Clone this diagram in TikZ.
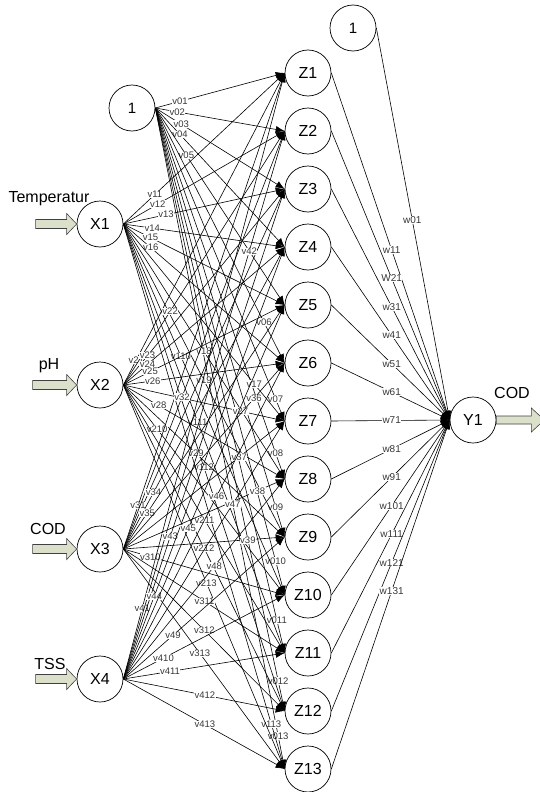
\documentclass[tikz,border=0pt]{standalone}
\usepackage{fontspec}
\setmainfont{Liberation Sans}
\usetikzlibrary{arrows.meta,calc}
\definecolor{arrowfill}{RGB}{219,224,202}
\definecolor{labgray}{RGB}{55,55,55}
\begin{document}
\begin{tikzpicture}[x=1pt,y=-1pt,
  neuron/.style={circle,draw,line width=0.7pt,fill=white,minimum size=46pt,inner sep=0pt,font=\fontsize{16}{16}\selectfont},
  biasnode/.style={neuron,font=\fontsize{15}{15}\selectfont},
  conn/.style={line width=0.6pt,-{Latex[length=9pt,width=7pt]}},
  vlab/.style={fill=white,inner sep=0.4pt,text=labgray,font=\fontsize{9.5}{9.5}\selectfont},
  wlab/.style={vlab,font=\fontsize{10}{10}\selectfont},
  inlab/.style={font=\fontsize{16}{16}\selectfont},
  blockarrow/.style={draw=black!75,fill=arrowfill,line width=0.6pt}]
\useasboundingbox (0,0) rectangle (539,792);

% nodes
\node[biasnode] (b0) at (132,108) {1};
\node[neuron] (x1) at (100,224) {X1};
\node[neuron] (x2) at (100,385) {X2};
\node[neuron] (x3) at (100,549) {X3};
\node[neuron] (x4) at (100,679) {X4};
\foreach \j in {1,...,13} \node[neuron] (z\j) at (308,{73+58*(\j-1)}) {Z\j};
\node[biasnode] (b1) at (353,28) {1};
\node[neuron] (y1) at (473,420) {Y1};

% input / output labels
\node[inlab] (tlab) at (49,199) {Temperatur};
\node[inlab] (phlab) at (49,366) {pH};
\node[inlab] (codlab) at (48,529) {COD};
\node[inlab] (tsslab) at (50,664) {TSS};
\node[inlab] (outlab) at (512,393) {COD};

% block arrows
\foreach \n/\len in {x1/41,x2/44,x3/44,x4/41}
  \draw[blockarrow] (\n.west) -- ++(-10,-10.5) -- ++(0,6) -- ++({-(\len-10)},0) -- ++(0,9) -- ++({\len-10},0) -- ++(0,6) -- cycle;
\draw[blockarrow] (y1.east) -- ++(0,-4) -- ++(35,0) -- ++(0,-8) -- ++(13,12) -- ++(-13,12) -- ++(0,-8) -- ++(-35,0) -- cycle;

% bias -> hidden
\foreach \j/\p in {1/.19,2/.17,3/.2,4/.19,5/.24,6/.84,7/.93,8/.93,9/.93,10/.93,11/.94,12/.95,13/.95}
  \draw[conn] (b0.east) -- node[vlab,pos=\p] {v0\j} (z\j.west);
% X1 -> hidden
\foreach \j/\p in {1/.195,2/.213,3/.265,4/.179,5/.168,6/.17,7/.812,8/.5,9/.5,10/.357,11/.461,12/.5,13/.917}
  \draw[conn] (x1.east) -- node[vlab,pos=\p] {v1\j} (z\j.west);
% X2 -> hidden
\foreach \j/\p in {1/.08,2/.29,3/.15,4/.15,5/.166,6/.182,7/.726,8/.219,9/.45,10/.209,11/.503,12/.5,13/.515}
  \draw[conn] (x2.east) -- node[vlab,pos=\p] {v2\j} (z\j.west);
% X3 -> hidden
\draw[conn] (x3.east) -- (z3.west);
\foreach \j/\p in {1/.091,2/.364,4/.187,5/.148,6/.81,7/.719,8/.832,9/.772,10/.168,11/.503,12/.502,13/.474}
  \draw[conn] (x3.east) -- node[vlab,pos=\p] {v3\j} (z\j.west);
% X4 -> hidden
\foreach \j/\p in {1/.117,2/.78,3/.291,4/.191,5/.403,6/.577,7/.678,8/.564,9/.308,10/.249,11/.289,12/.505,13/.505}
  \draw[conn] (x4.east) -- node[vlab,pos=\p] {v4\j} (z\j.west);

% hidden -> output
\draw[conn] (b1.east) -- node[wlab,pos=.49] {w01} (y1.west);
\foreach \j/\t in {1/w11,2/W21,3/w31,4/w41,5/w51,6/w61,7/w71,8/w81,9/w91,10/w101,11/w111,12/w121,13/w131}
  \draw[conn] (z\j.east) -- node[wlab,pos=.51] {\t} (y1.west);
\end{tikzpicture}
\end{document}
